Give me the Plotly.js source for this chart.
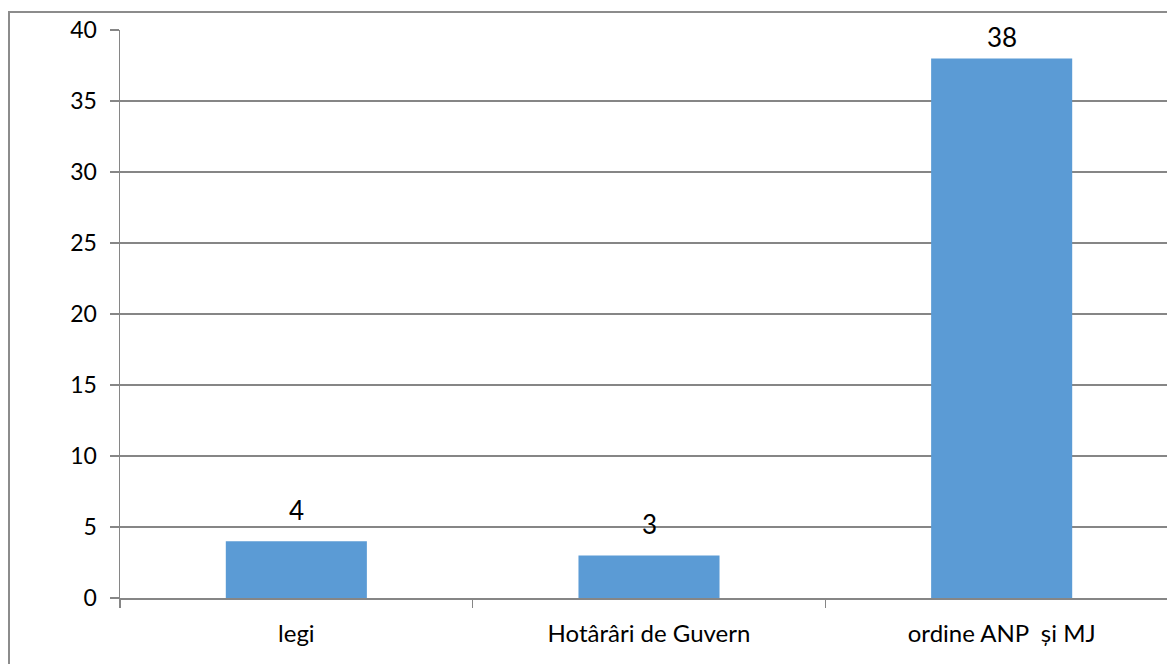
<!DOCTYPE html>
<html>
<head>
<meta charset="utf-8">
<script src="https://cdn.plot.ly/plotly-3.0.1.min.js"></script>
<style>
  html, body { margin: 0; padding: 0; background: #fff; overflow: hidden; }
  #frame { position: absolute; left: 8px; top: 11px; width: 1300px; height: 800px; border: 2px solid #8c8c8c; box-sizing: border-box; }
  #chart { position: absolute; left: 0; top: 0; }
</style>
</head>
<body>
<div id="frame"></div>
<div id="chart"></div>
<script>
const categories = ["legi", "Hotârâri de Guvern", "ordine ANP  și MJ"];
const values = [4, 3, 38];
const yTicks = [0, 5, 10, 15, 20, 25, 30, 35, 40];

const fontFam = "Lato, 'Open Sans', sans-serif";

const trace = {
  type: "bar",
  x: categories,
  y: values,
  width: 0.4,
  marker: { color: "#5b9bd5" },
  hoverinfo: "x+y"
};

const annotations = categories.map((c, i) => ({
  x: c,
  y: values[i],
  xref: "x",
  yref: "y",
  text: String(values[i]),
  showarrow: false,
  yanchor: "bottom",
  yshift: values[i] > 35 ? 3 : 13,
  font: { family: fontFam, size: 26, color: "#000" }
}));

const layout = {
  width: 1190,
  height: 664,
  margin: { l: 120, r: 12, t: 30, b: 66 },
  paper_bgcolor: "rgba(0,0,0,0)",
  plot_bgcolor: "rgba(0,0,0,0)",
  showlegend: false,
  bargap: 0.6,
  xaxis: {
    type: "category",
    tickson: "boundaries",
    ticks: "outside",
    ticklen: 8,
    tickwidth: 1.5,
    tickcolor: "#868686",
    showline: true,
    linecolor: "#868686",
    linewidth: 1.5,
    showgrid: false,
    ticklabelstandoff: 14,
    tickfont: { family: fontFam, size: 24, color: "#000" }
  },
  yaxis: {
    range: [0, 40],
    tickvals: yTicks,
    ticks: "outside",
    ticklen: 9,
    tickwidth: 1.5,
    tickcolor: "#868686",
    showline: true,
    linecolor: "#868686",
    linewidth: 1.5,
    showgrid: true,
    gridcolor: "#868686",
    gridwidth: 1.5,
    zeroline: false,
    ticklabelstandoff: 8,
    tickfont: { family: fontFam, size: 23, color: "#000" }
  },
  annotations: annotations
};

Plotly.newPlot("chart", [trace], layout, { displayModeBar: false, staticPlot: true });
</script>
</body>
</html>
